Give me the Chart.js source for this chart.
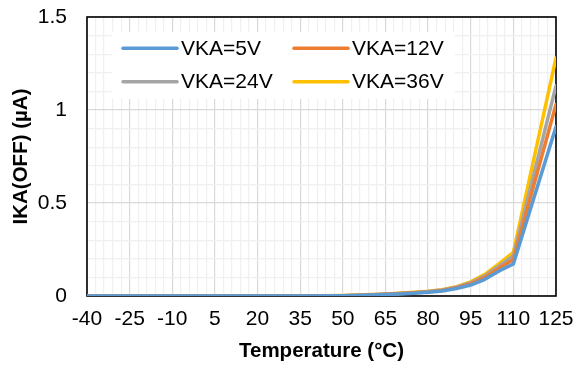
<!DOCTYPE html>
<html>
<head>
<meta charset="utf-8">
<script src="https://cdn.jsdelivr.net/npm/chart.js@4/dist/chart.umd.min.js"></script>
<style>
  html, body { margin: 0; padding: 0; background: #fff; }
  #wrap { width: 574px; height: 367px; }
</style>
</head>
<body>
<div id="wrap"><canvas id="c" width="574" height="367"></canvas></div>
<script>
// ---- data ----
const temps      = [-40, -25, -10, 5, 20, 35, 50, 55, 60, 65, 70, 75, 80, 85, 90, 95, 100, 105, 110, 125];
const vka5V      = [0, 0, 0, 0, 0, 0, 0.002, 0.003, 0.005, 0.008, 0.011, 0.015, 0.020, 0.027, 0.040, 0.059, 0.090, 0.135, 0.172, 0.91];
const vka12V     = [0, 0, 0, 0, 0, 0, 0.002, 0.004, 0.006, 0.009, 0.013, 0.017, 0.022, 0.030, 0.044, 0.066, 0.100, 0.150, 0.195, 1.03];
const vka24V     = [0, 0, 0, 0, 0, 0, 0.002, 0.004, 0.007, 0.010, 0.014, 0.018, 0.024, 0.032, 0.047, 0.071, 0.108, 0.162, 0.215, 1.13];
const vka36V     = [0, 0, 0, 0, 0, 0, 0.003, 0.005, 0.008, 0.011, 0.015, 0.020, 0.026, 0.034, 0.050, 0.076, 0.116, 0.174, 0.235, 1.28];
const seriesNames = ['VKA=5V', 'VKA=12V', 'VKA=24V', 'VKA=36V'];
const xTickLabels = [-40, -25, -10, 5, 20, 35, 50, 65, 80, 95, 110, 125];
const yTickLabels = [0, 0.5, 1, 1.5];
const xTitle = 'Temperature (°C)';
const yTitle = 'IKA(OFF) (µA)';

const colors = ['#5B9BD5', '#ED7D31', '#A5A5A5', '#FFC000'];
const FONT = "'Liberation Sans', Arial, sans-serif";

function pts(vals) { return temps.map((t, i) => ({ x: t, y: vals[i] })); }
const allSeries = [vka5V, vka12V, vka24V, vka36V];

const datasets = allSeries.map((vals, i) => ({
  label: seriesNames[i],
  data: pts(vals),
  borderColor: colors[i],
  backgroundColor: colors[i],
  borderWidth: 3.5,
  pointRadius: 0,
  tension: 0,
  borderJoinStyle: 'round',
  borderCapStyle: 'round',
  fill: false
}));

const isIn = (arr, v) => arr.some(a => Math.abs(a - v) < 1e-6);

const framePlugin = {
  id: 'frame',
  beforeDatasetsDraw(chart) {
    const { ctx, chartArea: a } = chart;
    ctx.save();
    // legend box
    const bx = a.left + 25, by = a.top + 15, bw = 343, bh = 67;
    ctx.fillStyle = '#fff';
    ctx.fillRect(bx, by, bw, bh);
    const rows = [a.top + 31.3, a.top + 64.7];
    const cols = [a.left + 36, a.left + 207];
    ctx.font = '21px ' + FONT;
    ctx.textBaseline = 'middle';
    ctx.textAlign = 'left';
    chart.data.datasets.forEach((ds, i) => {
      const cx = cols[i % 2], cy = rows[Math.floor(i / 2)];
      ctx.strokeStyle = ds.borderColor;
      ctx.lineWidth = 3.5;
      ctx.lineCap = 'round';
      ctx.beginPath();
      ctx.moveTo(cx, cy);
      ctx.lineTo(cx + 54, cy);
      ctx.stroke();
      ctx.fillStyle = '#000';
      ctx.fillText(ds.label, cx + 58, cy + 1);
    });
    // plot border
    ctx.strokeStyle = '#000';
    ctx.lineWidth = 1.6;
    ctx.lineCap = 'butt';
    ctx.strokeRect(a.left, a.top, a.right - a.left, a.bottom - a.top);
    ctx.restore();
  }
};

new Chart(document.getElementById('c'), {
  type: 'line',
  data: { datasets },
  options: {
    responsive: false,
    animation: false,
    devicePixelRatio: 1,
    layout: { padding: { top: 17, right: 18, left: 0, bottom: 0 } },
    plugins: { legend: { display: false }, tooltip: { enabled: false } },
    scales: {
      x: {
        type: 'linear',
        min: -40, max: 125,
        afterFit(s) { s.height = 71; s.paddingLeft = 0; s.paddingRight = 0; },
        border: { display: false },
        grid: {
          drawTicks: false,
          color: ctx => isIn(xTickLabels, ctx.tick.value) ? '#D9D9D9' : '#F0F0F0',
          lineWidth: 1.2
        },
        ticks: {
          stepSize: 3,
          autoSkip: false,
          maxRotation: 0,
          padding: 11,
          color: '#000',
          font: { family: FONT, size: 21 },
          callback: v => isIn(xTickLabels, v) ? String(Math.round(v)) : ''
        },
        title: {
          display: true, text: xTitle, color: '#000',
          font: { family: FONT, size: 20.5, weight: 'bold' },
          padding: { top: 0, bottom: 3 }
        }
      },
      y: {
        type: 'linear',
        min: 0, max: 1.5,
        afterFit(s) { s.width = 87; s.paddingTop = 0; s.paddingBottom = 0; },
        border: { display: false },
        grid: {
          drawTicks: false,
          color: ctx => isIn(yTickLabels, ctx.tick.value) ? '#D9D9D9' : '#F0F0F0',
          lineWidth: 1.2
        },
        ticks: {
          stepSize: 0.1,
          autoSkip: false,
          padding: 20,
          color: '#000',
          font: { family: FONT, size: 21 },
          callback: v => isIn(yTickLabels, v) ? String(Math.round(v * 10) / 10) : ''
        },
        title: {
          display: true, text: yTitle, color: '#000',
          font: { family: FONT, size: 20.5, weight: 'bold' },
          padding: { top: 9, bottom: 0 }
        }
      }
    }
  },
  plugins: [framePlugin]
});
</script>
</body>
</html>
